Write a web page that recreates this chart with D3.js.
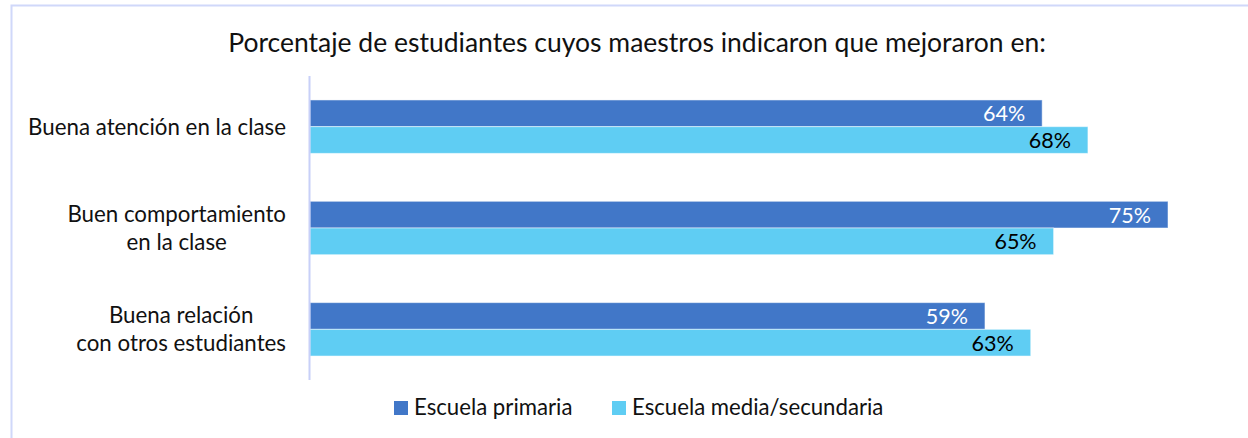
<!DOCTYPE html>
<html>
<head>
<meta charset="utf-8">
<script src="https://cdn.jsdelivr.net/npm/d3@7"></script>
<style>
  html,body{margin:0;padding:0;background:#fff;}
  svg{display:block;font-family:Lato,"Noto Sans",sans-serif;}
</style>
</head>
<body>
<svg id="chart"></svg>
<script>
// data
var categories=[
  ["Buena atención en la clase"],
  ["Buen comportamiento","en la clase"],
  ["Buena relación","con otros estudiantes"]
];
var series_names=["Escuela primaria","Escuela media/secundaria"];
var primaria=[64,75,59];
var media=[68,65,63];
var colors=["#4177C8","#5FCDF3"];
var label_colors=["#fff","#000"];
var title="Porcentaje de estudiantes cuyos maestros indicaron que mejoraron en:";

var W=1248,H=438;
var svg=d3.select("#chart").attr("width",W).attr("height",H);

// outer frame (only top/left edges visible)
svg.append("rect")
  .attr("x",11.5).attr("y",5.5).attr("width",W+20).attr("height",H+20)
  .attr("fill","none").attr("stroke","#D0D8FA").attr("stroke-width",2);

svg.append("text")
  .attr("x",637).attr("y",52)
  .attr("text-anchor","middle")
  .attr("font-size","26.5px").attr("fill","#111")
  .text(title);

var x0=310;
var x=d3.scaleLinear().domain([0,100]).range([x0,x0+1144]);
var y=d3.scaleBand().domain(d3.range(categories.length)).range([76,380]).paddingInner(0).paddingOuter(0);
var yi=d3.scaleBand().domain([0,1]).range([0,53.4]);

var rows=categories.map(function(c,i){return {i:i,vals:[primaria[i],media[i]]};});

var g=svg.append("g");
rows.forEach(function(r){
  var top=y(r.i)+(y.bandwidth()-53.4)/2;
  r.vals.forEach(function(v,k){
    var yy=top+yi(k);
    g.append("rect")
      .attr("x",x(0)).attr("y",yy)
      .attr("width",x(v)-x(0)).attr("height",yi.bandwidth())
      .attr("fill",colors[k]).attr("stroke","#fff").attr("stroke-opacity",0.5).attr("stroke-width",1);
    g.append("text")
      .attr("x",x(v)-17).attr("y",yy+yi.bandwidth()/2+8)
      .attr("text-anchor","end").attr("font-size","21.5px")
      .attr("fill",label_colors[k])
      .text(v+"%");
  });
});

// vertical category axis line
svg.append("line")
  .attr("x1",x0-0.5).attr("x2",x0-0.5).attr("y1",76).attr("y2",380)
  .attr("stroke","#C8D0F8").attr("stroke-width",2);

// category labels: block right aligned, lines centred in block
var lab=svg.append("g").attr("font-size","22.3px").attr("fill","#111");
categories.forEach(function(lines,i){
  var cy=y(i)+y.bandwidth()/2;
  var n=lines.length,lh=28;
  var tg=lab.append("g");
  var texts=lines.map(function(s,j){
    return tg.append("text")
      .attr("y",cy+(j-(n-1)/2)*lh+8)
      .attr("text-anchor","middle")
      .text(s);
  });
  var maxw=d3.max(texts,function(t){return t.node().getComputedTextLength();});
  texts.forEach(function(t){t.attr("x",286-maxw/2);});
});

// legend
var leg=svg.append("g").attr("font-size","22.2px").attr("fill","#111");
var lx=[394,612];
series_names.forEach(function(s,k){
  leg.append("rect").attr("x",lx[k]).attr("y",401).attr("width",14).attr("height",14).attr("fill",colors[k]);
  leg.append("text").attr("x",lx[k]+20).attr("y",415).text(s);
});
</script>
</body>
</html>
